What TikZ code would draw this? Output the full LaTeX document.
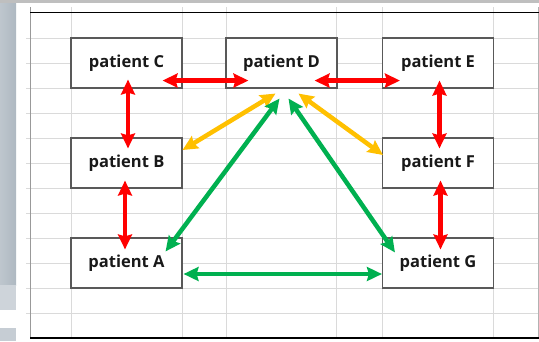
\documentclass[tikz,border=0pt]{standalone}
\usepackage{fontspec}
\newfontfamily\boxfont{Open Sans}
\usepackage{tikz}
\usetikzlibrary{arrows.meta, positioning}

\definecolor{sheetgrid}{HTML}{DADADA}
\definecolor{xlred}{HTML}{FF0000}
\definecolor{xlgold}{HTML}{FFC000}
\definecolor{xlgreen}{HTML}{00B050}
\definecolor{sidebar}{HTML}{AEB8C1}

\begin{document}
\begin{tikzpicture}[x=1pt,y=-1pt,>={Stealth[length=15pt,width=14pt,inset=2pt]},
  node distance=155pt,
  patient node/.style={rectangle,draw=black!65,line width=1.1pt,fill=white,
    minimum width=111pt,minimum height=50pt,inner sep=0pt,
    font=\boxfont\bfseries\fontsize{16.5}{18}\selectfont,text=black!90},
  red link/.style={<->,draw=xlred,line width=4.5pt},
  gold link/.style={<->,draw=xlgold,line width=4.5pt},
  green link/.style={<->,draw=xlgreen,line width=4.5pt}]

  \useasboundingbox (0,0) rectangle (539,341);

  % window frame and sheet
  \fill[white] (0,0) rectangle (539,341);
  \shade[left color=sidebar!80,right color=sidebar] (0,0) rectangle (16,285);
  \fill[sidebar!60] (0,285) rectangle (16,310);
  \fill[sidebar!70] (0,328) rectangle (16,341);
  \fill[black!25] (0,0) rectangle (539,3);

  % grid
  \foreach \y in {38,63,...,313}
    \draw[sheetgrid,line width=1pt] (26,\y) -- (539,\y);
  \foreach \x in {71,182,226,336,382,493}
    \draw[sheetgrid,line width=1pt] (\x,7) -- (\x,338);
  \draw[black!40,line width=1pt] (30,7) -- (30,338);
  \draw[black!30,line width=1pt] (538,7) -- (538,338);
  \draw[black,line width=1.5pt] (30,12.7) -- (539,12.7);
  \draw[black,line width=1.5pt] (30,338) -- (539,338);

  \node[patient node] (C) at (126.5,63) {patient C};
  \node[patient node] (D) [right of=C] {patient D};
  \node[patient node] (E) [right of=D, xshift=1.5pt] {patient E};
  \node[patient node, node distance=100pt] (B) [below of=C] {patient B};
  \node[patient node, node distance=100pt] (F) [below of=E] {patient F};
  \node[patient node, node distance=100pt] (A) [below of=B] {patient A};
  \node[patient node, node distance=100pt] (G) [below of=F] {patient G};

  \path
    ([shift={(-20,-8)}]C.south east) edge[red link] ([shift={(23,-8)}]D.south west)
    ([shift={(-23,-8)}]D.south east) edge[red link] ([shift={(18,-8)}]E.south west)
    ([shift={(1.5,-9)}]C.south) edge[red link] ([shift={(1.5,11)}]B.north)
    ([shift={(-1.5,-8)}]B.south) edge[red link] ([shift={(-1.5,12)}]A.north)
    ([shift={(1.5,-8)}]E.south) edge[red link] ([shift={(1.5,11)}]F.north)
    ([shift={(2.5,-8)}]F.south) edge[red link] ([shift={(2.5,12)}]G.north)
    ([shift={(0,-13)}]B.east) edge[gold link] ([shift={(-6,5)}]D.south)
    ([shift={(17,5)}]D.south) edge[gold link] ([shift={(1,-8)}]F.west)
    ([shift={(-2,10)}]D.south) edge[green link] ([shift={(-17,14)}]A.north east)
    ([shift={(7,10)}]D.south) edge[green link] ([shift={(13,15)}]G.north west)
    ([shift={(1,11)}]A.east) edge[green link] ([shift={(0,11)}]G.west);
\end{tikzpicture}
\end{document}
